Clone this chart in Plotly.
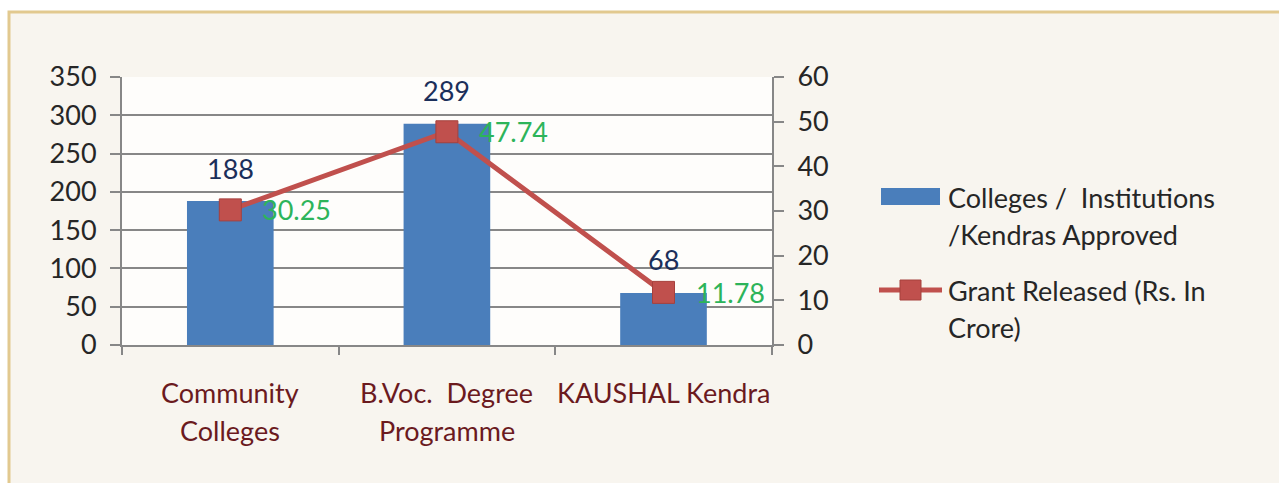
import plotly.graph_objects as go

# Scheme-wise approvals and grant releases
categories = ["Community Colleges", "B.Voc.  Degree Programme", "KAUSHAL Kendra"]
category_lines = [["Community", "Colleges"],
                  ["B.Voc.\u00a0\u00a0Degree", "Programme"],
                  ["KAUSHAL Kendra"]]
approved = [188, 289, 68]
grant_crore = [30.25, 47.74, 11.78]

bar_legend_lines = ["Colleges /\u00a0\u00a0Institutions", "/Kendras Approved"]
line_legend_lines = ["Grant Released (Rs. In", "Crore)"]

FONT = "Lato"
FS = 27
BAR_BLUE = "#4A7EBB"
LINE_RED = "#C0504D"
GRID = "#878787"
TEXT = "#262626"

fig = go.Figure()

fig.add_trace(go.Bar(
    x=categories, y=approved, name=" ".join(bar_legend_lines),
    marker=dict(color=BAR_BLUE, line=dict(width=0)),
    showlegend=False, yaxis="y",
))

fig.add_trace(go.Scatter(
    x=categories, y=grant_crore, name=" ".join(line_legend_lines),
    mode="lines+markers",
    line=dict(color=LINE_RED, width=5),
    marker=dict(symbol="square", size=22, color=LINE_RED,
                line=dict(color="#A5403D", width=1)),
    showlegend=False, yaxis="y2",
))

# plot geometry in pixels (used for the page border, labels and legend)
L, R, T, B = 122, 772, 77, 345
PW, PH = R - L, B - T


def px_x(x):
    return (x - L) / PW


def px_y(y):
    return (B - y) / PH


annotations = []
# value labels above bars
for c, v in zip(categories, approved):
    annotations.append(dict(x=c, y=v, xref="x", yref="y", text=str(v),
                            showarrow=False, yanchor="middle", yshift=33,
                            font=dict(family=FONT, size=FS, color="#1B2F5A")))
# value labels right of line markers
for c, v in zip(categories, grant_crore):
    annotations.append(dict(x=c, y=v, xref="x", yref="y2", text=f"{v:.2f}",
                            showarrow=False, xanchor="left", yanchor="middle",
                            xshift=30,
                            font=dict(family=FONT, size=FS, color="#2DB45A")))
# category names under the axis, one annotation per text line
for c, lines in zip(categories, category_lines):
    for i, line in enumerate(lines):
        annotations.append(dict(x=c, xref="x", yref="paper", y=px_y(392 + 38 * i),
                                text=line, showarrow=False,
                                xanchor="center", yanchor="middle",
                                font=dict(family=FONT, size=FS, color="#6B1A1E")))
# legend text
for lines, y0 in ((bar_legend_lines, 197), (line_legend_lines, 290)):
    for i, line in enumerate(lines):
        annotations.append(dict(xref="paper", yref="paper", x=px_x(946),
                                y=px_y(y0 + 37 * i), xanchor="left",
                                yanchor="middle", showarrow=False, text=line,
                                font=dict(family=FONT, size=FS, color=TEXT)))

shapes = [
    # framed panel
    dict(type="rect", xref="paper", yref="paper", layer="below",
         x0=px_x(9), x1=px_x(1300), y0=px_y(520), y1=px_y(12),
         fillcolor="#F8F5EF", line=dict(color="#E2C98F", width=3)),
    # plot area background
    dict(type="rect", xref="paper", yref="paper", layer="below",
         x0=0, x1=1, y0=0, y1=1, fillcolor="#FEFDFB", line=dict(width=0)),
    # legend key: bars
    dict(type="rect", xref="paper", yref="paper",
         x0=px_x(881), x1=px_x(940), y0=px_y(205), y1=px_y(188),
         fillcolor=BAR_BLUE, line=dict(width=0)),
    # legend key: line with marker
    dict(type="line", xref="paper", yref="paper",
         x0=px_x(879), x1=px_x(942), y0=px_y(290), y1=px_y(290),
         line=dict(color=LINE_RED, width=5)),
    dict(type="rect", xref="paper", yref="paper",
         x0=px_x(900), x1=px_x(921), y0=px_y(300), y1=px_y(280),
         fillcolor=LINE_RED, line=dict(color="#A5403D", width=1)),
]

fig.update_layout(
    width=1279, height=483,
    margin=dict(l=L, r=1279 - R, t=T, b=483 - B),
    paper_bgcolor="#FFFFFF",
    plot_bgcolor="rgba(0,0,0,0)",
    bargap=0.6,
    showlegend=False,
    shapes=shapes,
    annotations=annotations,
    font=dict(family=FONT, size=FS, color=TEXT),
    xaxis=dict(
        type="category", showticklabels=False,
        showline=True, linecolor=GRID, linewidth=2,
        ticks="outside", tickcolor=GRID, ticklen=8, tickwidth=2,
        tickson="boundaries", showgrid=False,
    ),
    yaxis=dict(
        range=[0, 350], tickvals=[0, 50, 100, 150, 200, 250, 300, 350],
        showgrid=True, gridcolor=GRID, gridwidth=2,
        showline=True, linecolor=GRID, linewidth=2,
        ticks="outside", tickcolor=GRID, ticklen=10, tickwidth=2,
        tickfont=dict(family=FONT, size=FS, color=TEXT),
        ticklabelstandoff=8, zeroline=False,
    ),
    yaxis2=dict(
        range=[0, 60], tickvals=[0, 10, 20, 30, 40, 50, 60],
        overlaying="y", side="right", showgrid=False,
        showline=True, linecolor=GRID, linewidth=2,
        ticks="outside", tickcolor=GRID, ticklen=10, tickwidth=2,
        tickfont=dict(family=FONT, size=FS, color=TEXT),
        ticklabelstandoff=8, zeroline=False,
    ),
)

fig.write_html("out.html")
